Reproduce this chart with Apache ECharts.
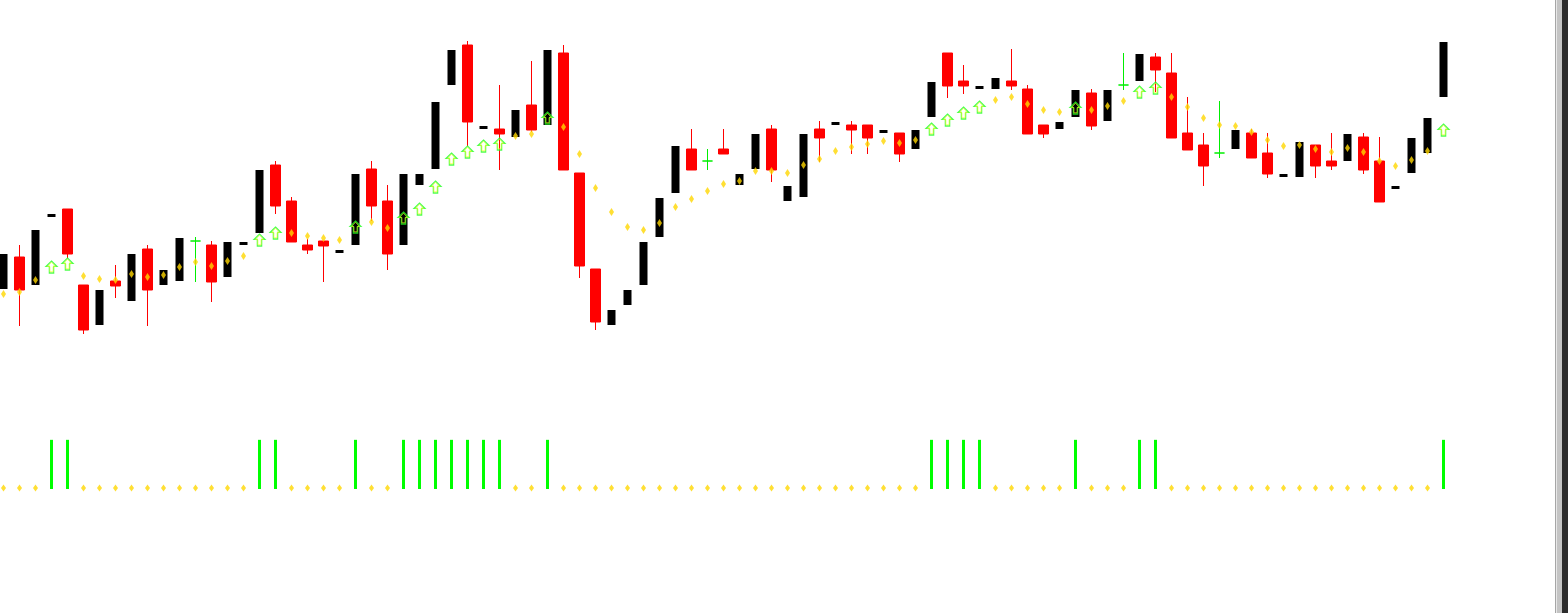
<!DOCTYPE html>
<html>
<head>
<meta charset="utf-8">
<style>
html,body{margin:0;padding:0;background:#fff;}
#c{width:1568px;height:613px;}
</style>
<script src="https://cdn.jsdelivr.net/npm/echarts@6/dist/echarts.min.js"></script>
</head>
<body>
<div id="c"></div>
<script>
// Price values (arbitrary price units)
const openP  = [111,143,115,183,191,115,75,119,99,151,115,119,159,155,123,155,167,235,199,155,159,147,155,231,199,155,215,231,315,355,271,271,263,295,275,347,227,131,75,95,115,163,207,251,239,251,215,231,271,199,203,271,275,275,275,267,267,251,283,347,319,311,311,319,311,275,271,283,307,279,315,319,343,327,267,255,247,251,267,247,223,223,255,239,239,263,239,211,227,247,303];
const closeP = [146,110,170,186,146,70,110,114,146,110,130,162,159,118,158,158,230,194,158,150,154,150,226,194,146,226,226,298,350,278,274,266,290,270,350,230,134,78,90,110,158,202,254,230,239,246,226,266,230,214,266,262,278,270,262,270,246,270,318,314,314,314,322,314,266,266,278,310,274,310,315,346,330,262,250,234,247,270,242,226,226,258,234,234,266,230,198,214,262,282,358];
const lowP   = [111,74,115,183,142,66,75,102,99,74,115,119,118,98,123,155,167,186,158,146,118,147,155,179,130,155,215,231,315,254,271,230,263,268,275,230,122,70,75,95,115,163,207,230,230,246,215,231,218,199,203,238,275,246,246,267,238,251,283,302,306,311,311,310,266,262,271,283,270,279,310,319,308,262,250,214,242,251,242,222,223,223,222,230,239,226,198,211,227,247,303];
const highP  = [146,155,170,186,191,115,110,135,146,155,130,162,163,159,158,158,230,239,203,161,159,150,226,239,215,226,226,298,350,359,274,315,290,339,350,355,227,131,90,110,158,202,254,271,251,271,226,266,275,214,266,279,278,279,275,270,267,270,318,347,335,314,322,351,315,275,278,310,311,310,347,346,347,347,303,267,299,270,271,267,226,258,255,267,266,267,263,214,262,282,358];
// Trailing-stop dots (yellow diamonds), null where an arrow is drawn instead
const stopDots = [106,108,120,null,null,124,121,120,126,123,125,133,138,134,139,144,null,null,167,164,162,160,null,178,172,null,null,null,null,null,null,null,264,266,null,273,246,212,188,173,170,177,193,201,209,216,219,229,229,227,235,241,249,253,256,259,257,260,null,null,null,null,300,303,296,290,288,null,290,294,299,null,null,303,293,282,275,274,268,260,254,255,251,248,252,248,239,234,240,249,null];
// Buy arrows
const buyArrows = [null,null,null,133,136,null,null,null,null,null,null,null,null,null,null,null,160,167,null,null,null,null,173,null,null,182,191,213,241,248,254,256,null,null,282,null,null,null,null,null,null,null,null,null,null,null,null,null,null,null,null,null,null,null,null,null,null,null,271,280,287,293,null,null,null,null,null,292,null,null,null,308,312,null,null,null,null,null,null,null,null,null,null,null,null,null,null,null,null,null,270];
const categories = openP.map((_, i) => 'Bar ' + (i + 1));

// Build candle groups from the data
const upData = [], downData = [], dojiData = [];
for (let i = 0; i < openP.length; i++) {
  const item = [openP[i], closeP[i], lowP[i], highP[i]];
  const blank = ['-','-','-','-'];
  upData.push(closeP[i] > openP[i] ? item : blank);
  downData.push(closeP[i] < openP[i] ? item : blank);
  dojiData.push(closeP[i] === openP[i] ? item : blank);
}
const signal = buyArrows.map(v => v == null ? 0 : 1);
const sigBars = signal.map(v => v === 1 ? 1 : null);
const sigDots = signal.map(v => v === 0 ? 0 : null);

const chart = echarts.init(document.getElementById('c'), null, {renderer: 'canvas'});
const arrowPath = 'path://M5,0 L10,5 L7,5 L7,11 L3,11 L3,5 L0,5 Z';

chart.setOption({
  animation: false,
  backgroundColor: '#ffffff',
  grid: [
    {left: -4.5, width: 1456, top: 0, height: 400, outerBoundsMode: 'none', containLabel: false},
    {left: -4.5, width: 1456, top: 430, height: 59, outerBoundsMode: 'none', containLabel: false}
  ],
  xAxis: [
    {type: 'category', data: categories, gridIndex: 0, show: false, boundaryGap: true},
    {type: 'category', data: categories, gridIndex: 1, show: false, boundaryGap: true}
  ],
  yAxis: [
    {type: 'value', gridIndex: 0, min: 0, max: 400, show: false},
    {type: 'value', gridIndex: 1, min: 0, max: 1.2, show: false}
  ],
  graphic: [
    {type: 'rect', shape: {x: 1555, y: 0, width: 1, height: 613}, style: {fill: '#a6a6a6'}},
    {type: 'rect', shape: {x: 1556, y: 0, width: 1, height: 613}, style: {fill: '#e8e8e8'}},
    {type: 'rect', shape: {x: 1557, y: 0, width: 5, height: 613}, style: {fill: '#c4c4c4'}},
    {type: 'rect', shape: {x: 1562, y: 0, width: 6, height: 613}, style: {fill: '#2c2c2c'}}
  ],
  series: [
    {
      type: 'candlestick', name: 'up', xAxisIndex: 0, yAxisIndex: 0, barWidth: 9, z: 2,
      data: upData,
      itemStyle: {color: '#000000', color0: '#000000', borderColor: '#000000', borderColor0: '#000000', borderWidth: 0}
    },
    {
      type: 'candlestick', name: 'down', xAxisIndex: 0, yAxisIndex: 0, barWidth: 10, z: 2,
      data: downData,
      itemStyle: {color: '#ff0000', color0: '#ff0000', borderColor: '#ff0000', borderColor0: '#ff0000', borderWidth: 1}
    },
    {
      type: 'candlestick', name: 'doji', xAxisIndex: 0, yAxisIndex: 0, barWidth: 10, z: 2,
      data: dojiData,
      itemStyle: {color: '#00ee00', color0: '#00ee00', borderColor: '#00ee00', borderColor0: '#00ee00', borderColorDoji: '#00ee00', borderWidth: 1}
    },
    {
      type: 'scatter', name: 'stop', xAxisIndex: 0, yAxisIndex: 0, z: 5,
      symbol: 'diamond', symbolSize: [5, 8],
      data: stopDots,
      itemStyle: {color: '#ffd700'}
    },
    {
      type: 'scatter', name: 'buy', xAxisIndex: 0, yAxisIndex: 0, z: 6,
      symbol: arrowPath, symbolSize: [11, 12],
      data: buyArrows,
      itemStyle: {color: 'rgba(0,0,0,0)', borderColor: '#22ff22', borderWidth: 1.2}
    },
    {
      type: 'scatter', name: 'buyInner', xAxisIndex: 0, yAxisIndex: 0, z: 7,
      symbol: arrowPath, symbolSize: [8, 9.5], silent: true,
      data: buyArrows,
      itemStyle: {color: 'rgba(0,0,0,0)', borderColor: '#eeff22', borderWidth: 0.8}
    },
    {
      type: 'bar', name: 'signal', xAxisIndex: 1, yAxisIndex: 1, barWidth: 3,
      data: sigBars,
      itemStyle: {color: '#00ff00'}
    },
    {
      type: 'scatter', name: 'nosignal', xAxisIndex: 1, yAxisIndex: 1,
      symbol: 'diamond', symbolSize: [5, 7], symbolOffset: [0, -1],
      data: sigDots,
      itemStyle: {color: '#ffd700'}
    }
  ]
});
</script>
</body>
</html>
